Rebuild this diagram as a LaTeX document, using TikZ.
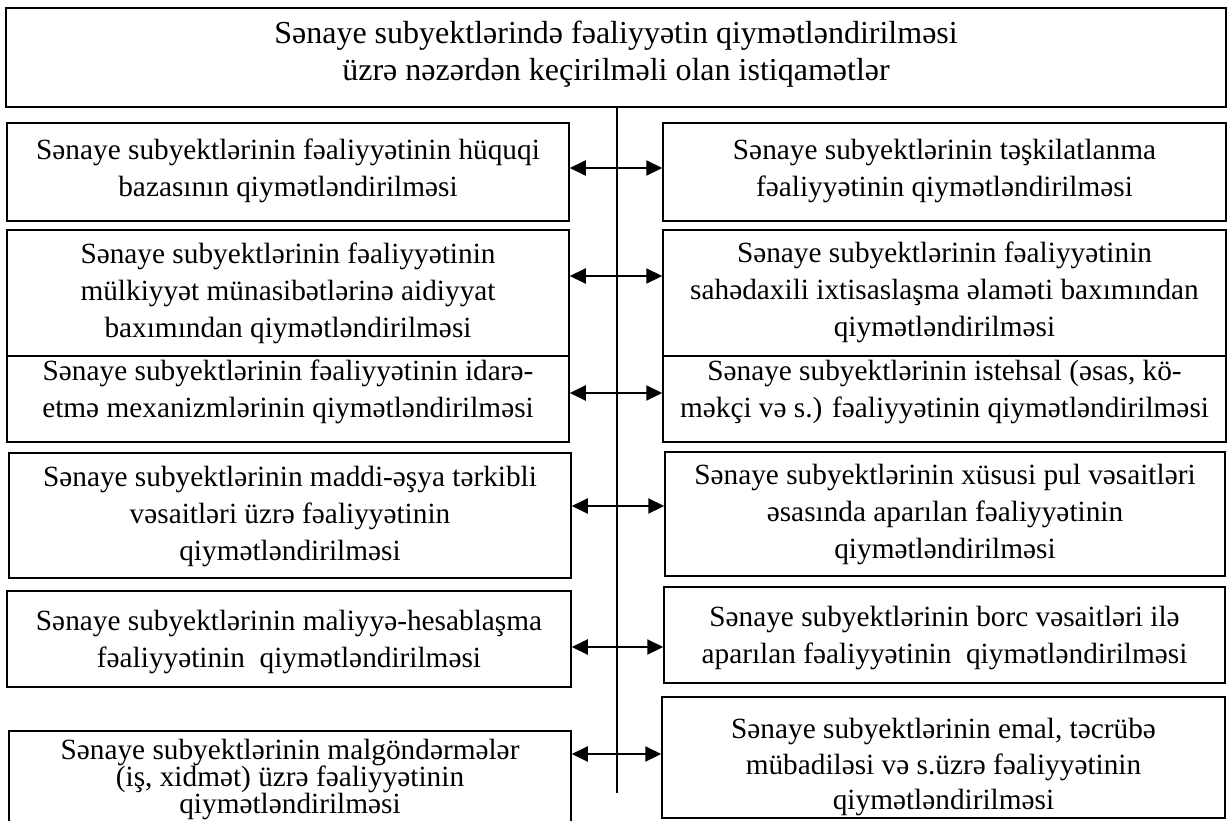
\documentclass[tikz,border=0pt]{standalone}
\usepackage{fontspec}
\setmainfont{Liberation Serif}
\usetikzlibrary{arrows.meta}
\begin{document}
\begin{tikzpicture}[x=1pt,y=-1pt,
  boxshape/.style={draw, line width=1.5pt, rectangle, inner sep=0pt},
  btext/.style={align=center, font=\fontsize{29.3}{37}\selectfont, inner sep=0pt},
  ttext/.style={align=center, font=\fontsize{32}{37}\selectfont, inner sep=0pt},
  link/.style={line width=2.2pt, {Triangle[length=16pt,width=15pt]}-{Triangle[length=16pt,width=15pt]}},
  spine/.style={line width=1.8pt}]
\useasboundingbox (0,0) rectangle (1227,820);
\clip (0,0) rectangle (1227,820);
% title
\node[boxshape, minimum width=1220, minimum height=99] (T) at (616,57.5) {};
\node[ttext] (Tt) at (616,54) {Sənaye subyektlərində fəaliyyətin qiymətləndirilməsi\\üzrə nəzərdən keçirilməli olan istiqamətlər};
% left boxes
\node[boxshape, minimum width=562, minimum height=98] (L1) at (288,172) {};
\node[btext] (L1t) at (288,170.5) {Sənaye subyektlərinin fəaliyyətinin hüquqi\\bazasının qiymətləndirilməsi};
\node[boxshape, minimum width=562, minimum height=126] (L2) at (288,293) {};
\node[btext] (L2t) at (288,293) {Sənaye subyektlərinin fəaliyyətinin\\mülkiyyət münasibətlərinə aidiyyat\\baxımından qiymətləndirilməsi};
\node[boxshape, minimum width=562, minimum height=86] (L3) at (288,399) {};
\node[btext] (L3t) at (288,392) {Sənaye subyektlərinin fəaliyyətinin idarə-\\etmə mexanizmlərinin qiymətləndirilməsi};
\node[boxshape, minimum width=562, minimum height=125] (L4) at (290,515.5) {};
\node[btext] (L4t) at (290,516) {Sənaye subyektlərinin maddi-əşya tərkibli\\vəsaitləri üzrə fəaliyyətinin\\qiymətləndirilməsi};
\node[boxshape, minimum width=564, minimum height=96] (L5) at (289,639) {};
\node[btext] (L5t) at (289,642) {Sənaye subyektlərinin maliyyə-hesablaşma\\fəaliyyətinin\ \ qiymətləndirilməsi};
\node[boxshape, minimum width=562, minimum height=119] (L6) at (290,790.5) {};
\node[btext, font=\fontsize{29.3}{27}\selectfont] (L6t) at (290,779) {Sənaye subyektlərinin malgöndərmələr\\(iş, xidmət) üzrə fəaliyyətinin\\qiymətləndirilməsi};
% right boxes
\node[boxshape, minimum width=563, minimum height=98] (R1) at (944.5,172) {};
\node[btext] (R1t) at (944.5,170.5) {Sənaye subyektlərinin təşkilatlanma\\fəaliyyətinin qiymətləndirilməsi};
\node[boxshape, minimum width=563, minimum height=126] (R2) at (944.5,293) {};
\node[btext] (R2t) at (944.5,292) {Sənaye subyektlərinin fəaliyyətinin\\sahədaxili ixtisaslaşma əlaməti baxımından\\qiymətləndirilməsi};
\node[boxshape, minimum width=563, minimum height=86] (R3) at (944.5,399) {};
\node[btext] (R3t) at (944.5,392) {Sənaye subyektlərinin istehsal (əsas, kö-\\məkçi və s.) fəaliyyətinin qiymətləndirilməsi};
\node[boxshape, minimum width=560, minimum height=124] (R4) at (945,514) {};
\node[btext] (R4t) at (945,514.5) {Sənaye subyektlərinin xüsusi pul vəsaitləri\\əsasında aparılan fəaliyyətinin\\qiymətləndirilməsi};
\node[boxshape, minimum width=561, minimum height=96] (R5) at (944.5,635) {};
\node[btext] (R5t) at (944.5,638) {Sənaye subyektlərinin borc vəsaitləri ilə\\aparılan fəaliyyətinin\ \ qiymətləndirilməsi};
\node[boxshape, minimum width=563, minimum height=121] (R6) at (943.5,757.5) {};
\node[btext, font=\fontsize{29.3}{35.5}\selectfont] (R6t) at (943.5,767) {Sənaye subyektlərinin emal, təcrübə\\mübadiləsi və s.üzrə fəaliyyətinin\\qiymətləndirilməsi};
% spine
\coordinate (S) at (617,793);
\draw[spine] (T.south -| S) -- (S);
% links
\coordinate (a1) at (617,168);
\coordinate (a2) at (617,276);
\coordinate (a3) at (617,393);
\coordinate (a4) at (617,506);
\coordinate (a5) at (617,647);
\coordinate (a6) at (617,754);
\draw[link] (L1.east |- a1) -- (R1.west |- a1);
\draw[link] (L2.east |- a2) -- (R2.west |- a2);
\draw[link] (L3.east |- a3) -- (R3.west |- a3);
\draw[link] (L4.east |- a4) -- (R4.west |- a4);
\draw[link] (L5.east |- a5) -- (R5.west |- a5);
\draw[link] (L6.east |- a6) -- (R6.west |- a6);
\end{tikzpicture}
\end{document}
